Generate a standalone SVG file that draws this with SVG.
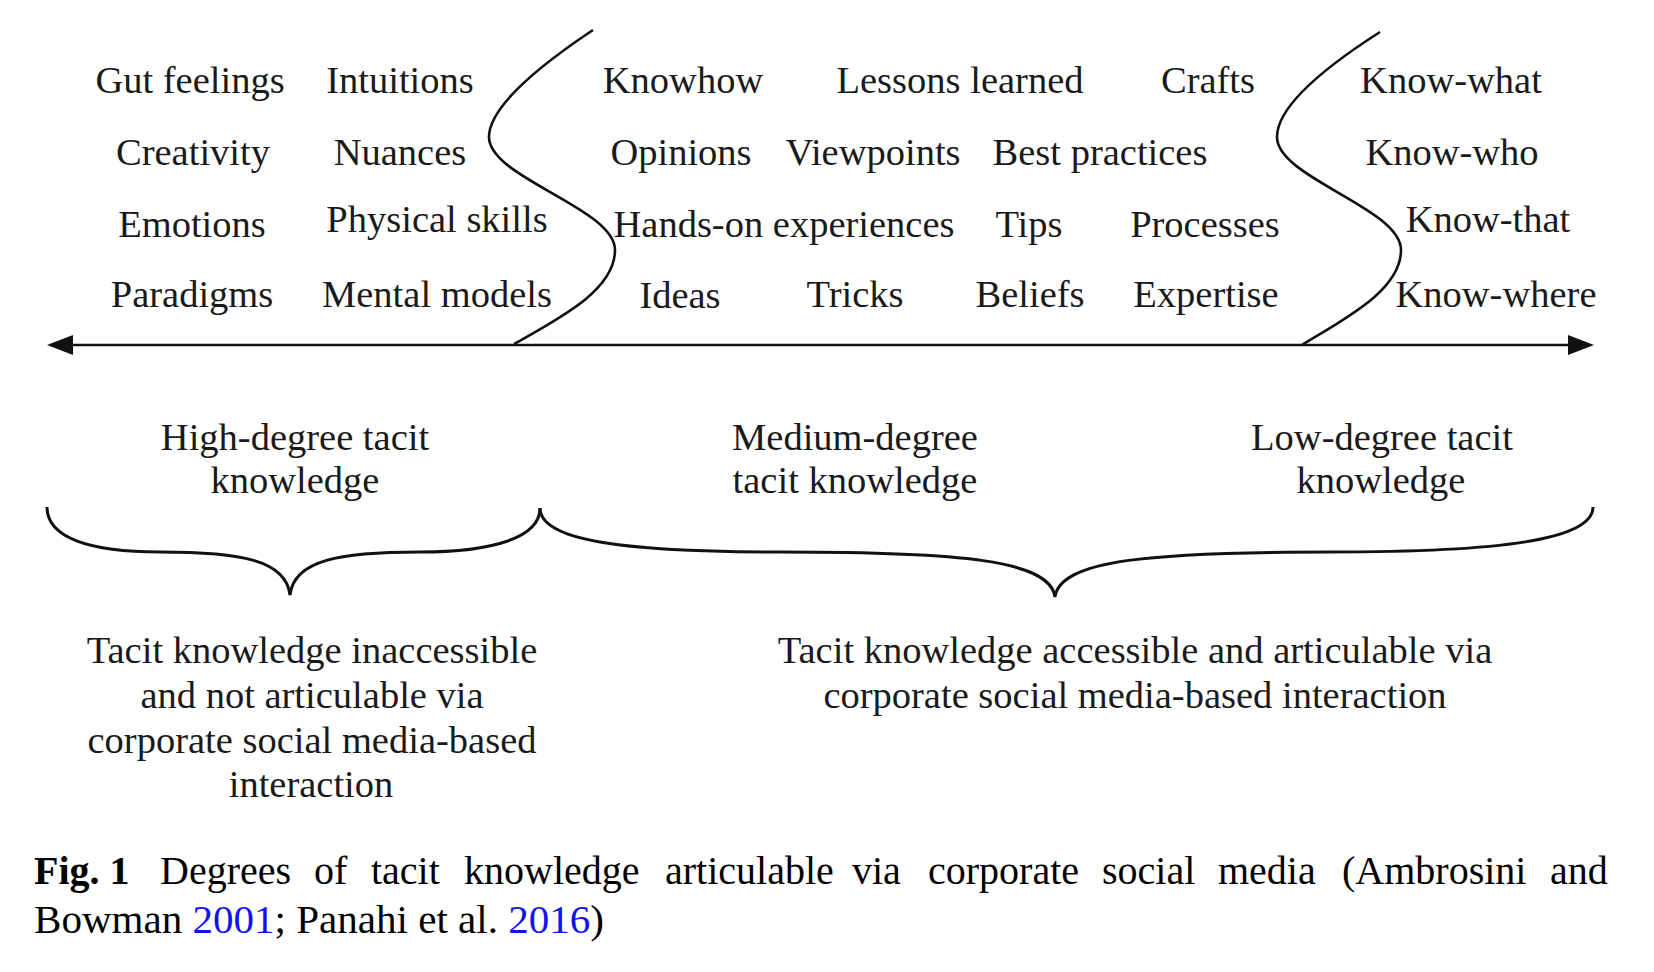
<svg xmlns="http://www.w3.org/2000/svg" width="1654" height="972" viewBox="0 0 1654 972">
<defs>
<style>
.t{font-family:"Liberation Serif","Times New Roman",serif;font-size:38.5px;fill:#1a1a1a;text-anchor:middle}
.c{font-family:"Liberation Serif","Times New Roman",serif;font-size:40px;fill:#000}
.ln{fill:none;stroke:#111;stroke-width:2.6}
.br{fill:none;stroke:#111;stroke-width:3}
.lk{fill:#1212f0}
</style>
</defs>
<rect width="1654" height="972" fill="#fff"/>
<g id="connectors">
<line class="ln" x1="66" y1="345" x2="1575" y2="345" stroke-width="3"/>
<polygon points="47,345 73,335 73,355" fill="#111"/>
<polygon points="1594,345 1568,335 1568,355" fill="#111"/>
<path id="curve1" class="ln" d="M593,30 C545,62 489,105 489,137 C489,178 615,208 615,250 C615,290 560,318 514,344"/>
<path id="curve2" class="ln" d="M1380,32 C1330,64 1277,105 1277,137 C1277,178 1401,208 1401,250 C1401,290 1346,318 1302,345"/>
<path id="brace1" class="br" d="M47,507 C47,538 90,552 160,552 C240,552 286,560 290,595 C294,560 340,552 420,552 C492,552 540,538 540,508"/>
<path id="brace2" class="br" d="M540,508 C540,540 620,552 780,552 C960,552 1050,560 1055,597 C1060,560 1150,552 1330,552 C1500,552 1593,540 1593,507"/>
</g>
<g id="n-gut"><text class="t" x="190" y="93">Gut feelings</text></g>
<g id="n-intuitions"><text class="t" x="400" y="93">Intuitions</text></g>
<g id="n-knowhow"><text class="t" x="683" y="93">Knowhow</text></g>
<g id="n-lessons"><text class="t" x="960" y="93">Lessons learned</text></g>
<g id="n-crafts"><text class="t" x="1208" y="93">Crafts</text></g>
<g id="n-knowwhat"><text class="t" x="1451" y="93">Know-what</text></g>
<g id="n-creativity"><text class="t" x="193" y="165">Creativity</text></g>
<g id="n-nuances"><text class="t" x="400" y="165">Nuances</text></g>
<g id="n-opinions"><text class="t" x="681" y="165">Opinions</text></g>
<g id="n-viewpoints"><text class="t" x="873" y="165">Viewpoints</text></g>
<g id="n-best"><text class="t" x="1100" y="165">Best practices</text></g>
<g id="n-knowwho"><text class="t" x="1452" y="165">Know-who</text></g>
<g id="n-emotions"><text class="t" x="192" y="237">Emotions</text></g>
<g id="n-physical"><text class="t" x="437" y="232">Physical skills</text></g>
<g id="n-handson"><text class="t" x="784" y="237">Hands-on experiences</text></g>
<g id="n-tips"><text class="t" x="1029" y="237">Tips</text></g>
<g id="n-processes"><text class="t" x="1205" y="237">Processes</text></g>
<g id="n-knowthat"><text class="t" x="1488" y="232">Know-that</text></g>
<g id="n-paradigms"><text class="t" x="192" y="307">Paradigms</text></g>
<g id="n-mental"><text class="t" x="437" y="307">Mental models</text></g>
<g id="n-ideas"><text class="t" x="680" y="308">Ideas</text></g>
<g id="n-tricks"><text class="t" x="855" y="307">Tricks</text></g>
<g id="n-beliefs"><text class="t" x="1030" y="307">Beliefs</text></g>
<g id="n-expertise"><text class="t" x="1206" y="307">Expertise</text></g>
<g id="n-knowwhere"><text class="t" x="1496" y="307">Know-where</text></g>
<g id="n-high"><text class="t" x="295" y="450">High-degree tacit</text><text class="t" x="295" y="493">knowledge</text></g>
<g id="n-medium"><text class="t" x="855" y="450">Medium-degree</text><text class="t" x="855" y="493">tacit knowledge</text></g>
<g id="n-low"><text class="t" x="1382" y="450">Low-degree tacit</text><text class="t" x="1381" y="493">knowledge</text></g>
<g id="n-inaccessible">
<text class="t" x="312" y="663">Tacit knowledge inaccessible</text>
<text class="t" x="312" y="708">and not articulable via</text>
<text class="t" x="312" y="753">corporate social media-based</text>
<text class="t" x="311" y="797">interaction</text>
</g>
<g id="n-accessible">
<text class="t" x="1135" y="663">Tacit knowledge accessible and articulable via</text>
<text class="t" x="1135" y="708">corporate social media-based interaction</text>
</g>
<g id="caption">
<text class="c" y="884"><tspan x="34" font-weight="bold">Fig. 1</tspan><tspan x="160">Degrees</tspan><tspan x="314">of</tspan><tspan x="371">tacit</tspan><tspan x="464">knowledge</tspan><tspan x="665">articulable</tspan><tspan x="852">via</tspan><tspan x="928">corporate</tspan><tspan x="1102">social</tspan><tspan x="1218">media</tspan><tspan x="1342">(Ambrosini</tspan><tspan x="1550">and</tspan></text>
<text class="c" x="34" y="933" textLength="570" lengthAdjust="spacingAndGlyphs">Bowman <tspan class="lk">2001</tspan>; Panahi et al. <tspan class="lk">2016</tspan>)</text>
</g>
</svg>
